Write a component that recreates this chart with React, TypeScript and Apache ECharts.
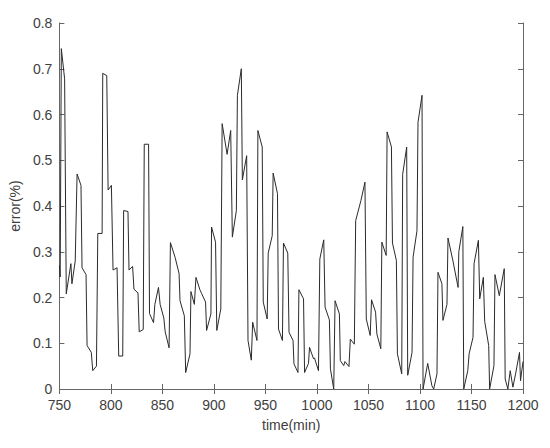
import React, { useEffect, useRef } from "react";
import * as echarts from "echarts";

const times: number[] = [
  750, 750.8, 751.9, 755.1, 756.7, 761.2, 762.2, 765.4, 767.2, 771, 772, 775.9, 776.9, 781, 782.4, 786, 787.3, 791.5,
  792.1, 796, 797.3, 800.5, 802.1, 806, 807.6, 811.5, 812.4, 816.6, 817.6, 821.1, 822.4, 826.3, 827.5, 831.4, 832.4,
  836.6, 837.5, 841.4, 842.7, 846.2, 847.8, 851.4, 852.7, 856.5, 857.8, 862.3, 866.2, 867.1, 871.3, 872.6, 876.8,
  877.7, 881, 882.6, 886.4, 888, 891.9, 892.9, 897.1, 897.7, 901.6, 902.8, 906.7, 908, 912.8, 916.3, 917.9, 921.8,
  922.8, 926.6, 927.6, 931.8, 933.1, 936.3, 937.6, 941.8, 942.7, 946.9, 947.9, 951.7, 952.7, 956.6, 957.5, 961.7,
  962.7, 966.5, 967.5, 971.7, 972.9, 976.8, 977.7, 981.6, 982.5, 987, 988, 991.8, 992.8, 996.7, 997.6, 1001.5,
  1002.8, 1006.6, 1007.9, 1012.1, 1013.1, 1016.3, 1017.6, 1021.8, 1022.7, 1026, 1027.2, 1031.1, 1032.4, 1036.3,
  1037.6, 1042.7, 1046.6, 1047.9, 1051.7, 1053, 1056.9, 1058.2, 1062, 1063, 1067.2, 1068.1, 1072.3, 1073.3, 1077.1,
  1078.1, 1082.3, 1083.2, 1087.1, 1088.1, 1092.3, 1093.3, 1097.1, 1098.1, 1102, 1103, 1107.5, 1111.6, 1113.3,
  1116.5, 1117.5, 1121.3, 1122.3, 1126.2, 1127.2, 1132, 1137, 1137.7, 1141.6, 1142.5, 1146.4, 1147.7, 1151.5,
  1152.5, 1156.7, 1158, 1161.5, 1162.8, 1166.7, 1167.6, 1171.8, 1172.8, 1177, 1181.8, 1182.7, 1185.3, 1187.6,
  1190.2, 1192.8, 1196.6, 1197.6, 1200,
];

const errors: number[] = [
  0.27, 0.245, 0.744, 0.678, 0.208, 0.274, 0.23, 0.28, 0.47, 0.445, 0.265, 0.25, 0.095, 0.08, 0.04, 0.05, 0.34, 0.34,
  0.69, 0.685, 0.435, 0.445, 0.26, 0.265, 0.072, 0.072, 0.39, 0.388, 0.26, 0.268, 0.218, 0.21, 0.125, 0.13, 0.535,
  0.535, 0.165, 0.145, 0.185, 0.222, 0.185, 0.155, 0.125, 0.09, 0.32, 0.288, 0.252, 0.193, 0.16, 0.036, 0.077,
  0.213, 0.185, 0.244, 0.217, 0.209, 0.19, 0.128, 0.164, 0.354, 0.321, 0.128, 0.175, 0.58, 0.513, 0.565, 0.332, 0.39,
  0.642, 0.7, 0.457, 0.51, 0.106, 0.063, 0.146, 0.106, 0.565, 0.529, 0.19, 0.153, 0.297, 0.335, 0.472, 0.427,
  0.131, 0.106, 0.319, 0.297, 0.124, 0.106, 0.055, 0.036, 0.217, 0.197, 0.036, 0.056, 0.091, 0.066, 0.068, 0.04,
  0.284, 0.326, 0.179, 0.151, 0.044, 0.0, 0.193, 0.164, 0.062, 0.051, 0.06, 0.049, 0.109, 0.098,
  0.368, 0.412, 0.452, 0.153, 0.117, 0.195, 0.168, 0.12, 0.088, 0.321, 0.292, 0.562, 0.529, 0.319, 0.281,
  0.077, 0.033, 0.469, 0.529, 0.03, 0.08, 0.288, 0.346, 0.583, 0.642, 0.0, 0.056, 0.007, 0.0,
  0.033, 0.255, 0.23, 0.15, 0.185, 0.33, 0.28, 0.222, 0.3, 0.355, 0.0, 0.04, 0.077, 0.113,
  0.274, 0.325, 0.197, 0.244, 0.148, 0.095, 0.0, 0.051, 0.25, 0.204, 0.263, 0.022, 0.0, 0.04,
  0.004, 0.033, 0.08, 0.018, 0.06,
];

const xTicks: number[] = [750, 800, 850, 900, 950, 1000, 1050, 1100, 1150, 1200];
const yTickLabels: string[] = ["0", "0.1", "0.2", "0.3", "0.4", "0.5", "0.6", "0.7", "0.8"];
const xName = "time(min)";
const yName = "error(%)";

export default function App() {
  const ref = useRef<HTMLDivElement>(null);
  useEffect(() => {
    if (!ref.current) return;
    const chart = echarts.init(ref.current, undefined, { renderer: "svg" });
    const data = times.map((t, i) => [t, errors[i]]);
    const font = "Liberation Sans, Arial, sans-serif";
    const labelColor = "#404040";
    const axisColor = "#666";
    const xBase: any = {
      type: "value",
      min: xTicks[0],
      max: xTicks[xTicks.length - 1],
      interval: xTicks[1] - xTicks[0],
      splitLine: { show: false },
      axisLine: { show: true, lineStyle: { color: axisColor, width: 1 } },
      axisTick: { show: true, inside: true, length: 5, lineStyle: { color: axisColor } },
    };
    const yBase: any = {
      type: "value",
      min: 0,
      max: 0.8,
      interval: 0.1,
      splitLine: { show: false },
      axisLine: { show: true, lineStyle: { color: axisColor, width: 1 } },
      axisTick: { show: true, inside: true, length: 5, lineStyle: { color: axisColor } },
    };
    chart.setOption({
      animation: false,
      backgroundColor: "#ffffff",
      grid: { left: 57, right: 27, top: 23, bottom: 59, containLabel: false },
      xAxis: [
        {
          ...xBase,
          position: "bottom",
          name: xName,
          nameLocation: "middle",
          nameGap: 29,
          nameTextStyle: { fontFamily: font, fontSize: 14, color: labelColor },
          axisLabel: {
            fontFamily: font,
            fontSize: 14,
            color: labelColor,
            margin: 9,
            formatter: (v: number) => {
              const t = xTicks.find((x) => Math.abs(x - v) < 1e-6);
              return t !== undefined ? String(t) : String(Math.round(v));
            },
          },
        },
        { ...xBase, position: "top", axisLabel: { show: false } },
      ],
      yAxis: [
        {
          ...yBase,
          position: "left",
          name: yName,
          nameLocation: "middle",
          nameGap: 33,
          nameTextStyle: { fontFamily: font, fontSize: 14, color: labelColor },
          axisLabel: {
            fontFamily: font,
            fontSize: 14,
            color: labelColor,
            margin: 7,
            formatter: (v: number) => yTickLabels[Math.round(v * 10)] ?? String(v),
          },
        },
        { ...yBase, position: "right", axisLabel: { show: false } },
      ],
      series: [
        {
          type: "line",
          data,
          xAxisIndex: 0,
          yAxisIndex: 0,
          showSymbol: false,
          symbol: "none",
          lineStyle: { color: "#2a2a2a", width: 1 },
          clip: true,
        },
      ],
    });
    return () => chart.dispose();
  }, []);
  return (
    <div
      ref={ref}
      style={{ position: "fixed", left: 0, top: 0, width: 550, height: 448, background: "#fff" }}
    />
  );
}
